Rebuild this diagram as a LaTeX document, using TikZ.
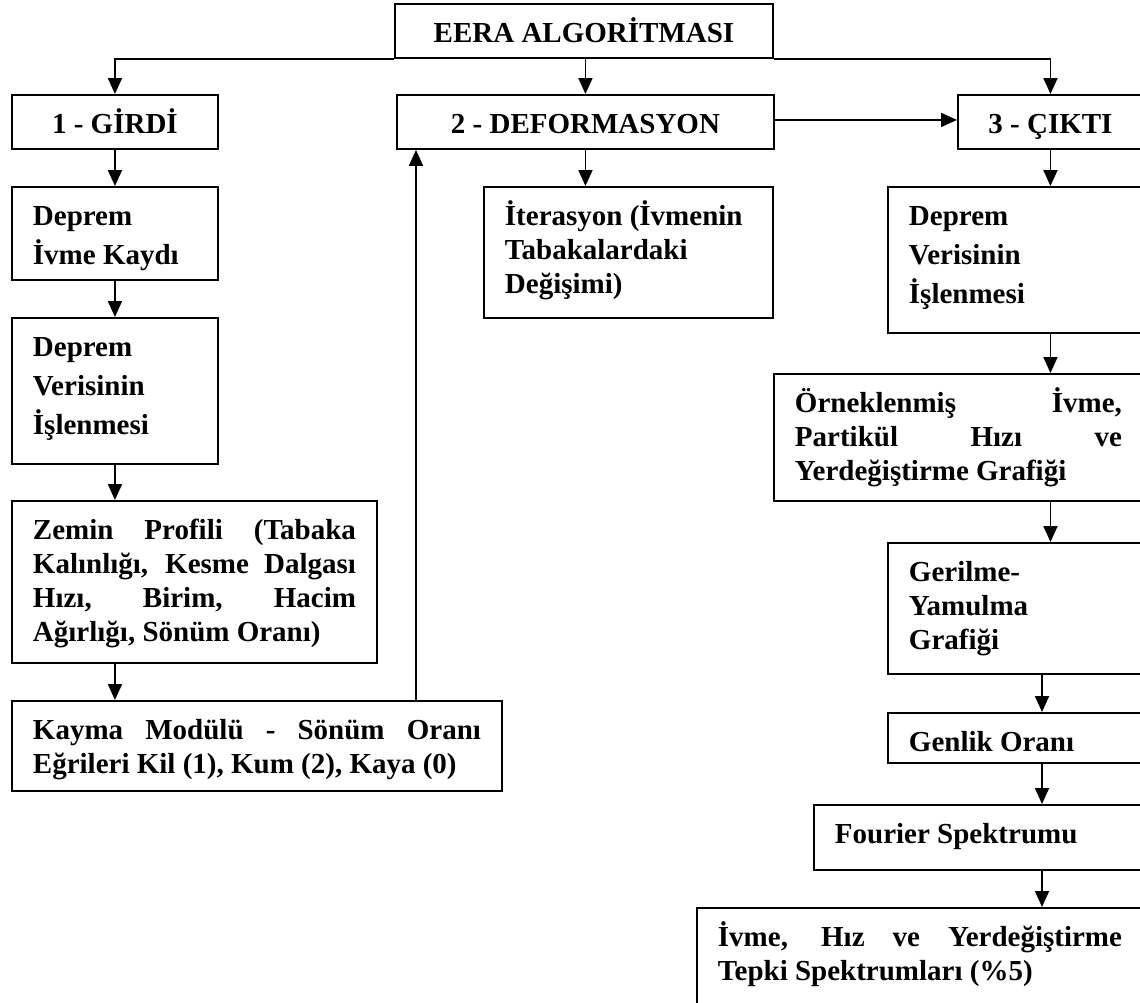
\documentclass[tikz,border=0pt]{standalone}
\usepackage{fontspec}
\setmainfont{Liberation Serif}
\usetikzlibrary{arrows.meta}
\tolerance=10000
\hbadness=10000
\newcommand{\boxtxt}[2]{\parbox[t]{#1}{#2}}

\begin{document}
\begin{tikzpicture}[x=1pt,y=-1pt,
  stage/.style={draw,line width=1.9pt,anchor=north west,inner xsep=21pt,inner ysep=0pt,text height=38.5pt,font=\fontsize{29}{34}\selectfont\bfseries},
  tall/.style={font=\fontsize{29}{39}\selectfont\bfseries},
  arrow/.style={-{Triangle[length=16pt,width=14pt]},line width=1.9pt}]
  \clip (0,0) rectangle (1140,1002);

  \node[stage,text depth=15.5pt] (eera) at (394,3) {\boxtxt{336pt}{\centering EERA ALGORİTMASI}};
  \node[stage,text depth=15.5pt] (girdi) at (11,94) {\boxtxt{164pt}{\centering 1 - GİRDİ}};
  \node[stage,text depth=15.5pt] (deform) at (396,94) {\boxtxt{335pt}{\centering 2 - DEFORMASYON}};
  \node[stage,text depth=15.5pt] (cikti) at (957,94) {\boxtxt{143pt}{\centering 3 - ÇIKTI}};

  \node[stage,tall,text depth=54.5pt] (kayit) at (11,186) {\boxtxt{164pt}{\raggedright Deprem\\ İvme Kaydı}};
  \node[stage,tall,text depth=107.5pt] (veri in) at (11,317) {\boxtxt{164pt}{\raggedright Deprem\\ Verisinin\\ İşlenmesi}};
  \node[stage,text depth=123.5pt] (zemin) at (11,500) {\boxtxt{323pt}{Zemin Profili (Tabaka\linebreak Kalınlığı, Kesme Dalgası\linebreak Hızı, Birim, Hacim\linebreak Ağırlığı, Sönüm Oranı)}};
  \node[stage,text depth=51.5pt] (kayma) at (11,700) {\boxtxt{448pt}{Kayma Modülü - Sönüm Oranı\linebreak Eğrileri Kil (1), Kum (2), Kaya (0)}};

  \node[stage,text depth=92.5pt] (iterasyon) at (483,186) {\boxtxt{247pt}{\raggedright İterasyon (İvmenin\\ Tabakalardaki\\ Değişimi)}};

  \node[stage,tall,text depth=107.5pt] (veri out) at (887,186) {\boxtxt{213pt}{\raggedright Deprem\\ Verisinin\\ İşlenmesi}};
  \node[stage,text depth=88.5pt] (grafik) at (773,373) {\boxtxt{327pt}{Örneklenmiş İvme,\linebreak Partikül Hızı ve\linebreak Yerdeğiştirme Grafiği}};
  \node[stage,text depth=92.5pt] (gerilme) at (887,542) {\boxtxt{213pt}{\raggedright Gerilme-\\ Yamulma\\ Grafiği}};
  \node[stage,text depth=11.5pt] (genlik) at (887,712) {\boxtxt{213pt}{\raggedright Genlik Oranı}};
  \node[stage,text depth=26.5pt] (fourier) at (813,804) {\boxtxt{287pt}{\raggedright Fourier Spektrumu}};
  \node[stage,text depth=64.5pt] (tepki) at (696,907) {\boxtxt{404pt}{İvme, Hız ve Yerdeğiştirme\linebreak Tepki Spektrumları (\%5)}};

  \coordinate (feedback) at (416,0);
  \coordinate (spine) at (1042,0);

  \draw[arrow] (eera.south west) -| (girdi.north);
  \draw[arrow] (eera.south -| deform.north) -- (deform.north);
  \draw[arrow] (eera.south east) -| (cikti.north);

  \draw[arrow] (girdi) -- (kayit);
  \draw[arrow] (kayit) -- (veri in);
  \draw[arrow] (veri in.south) -- (veri in.south |- zemin.north);
  \draw[arrow] (zemin.south -| veri in.south) -- (kayma.north -| veri in.south);
  \draw[arrow] (kayma.north -| feedback) -- (deform.south -| feedback);

  \draw[arrow] (deform.south) -- (deform.south |- iterasyon.north);
  \draw[arrow] ([yshift=2pt]deform.east) -- ([yshift=2pt]cikti.west);

  \draw[arrow] (cikti.south) -- (cikti.south |- veri out.north);
  \draw[arrow] (veri out.south -| cikti.south) -- (grafik.north -| cikti.south);
  \draw[arrow] (grafik.south -| cikti.south) -- (gerilme.north -| cikti.south);
  \draw[arrow] (gerilme.south -| spine) -- (genlik.north -| spine);
  \draw[arrow] (genlik.south -| spine) -- (fourier.north -| spine);
  \draw[arrow] (fourier.south -| spine) -- (tepki.north -| spine);
\end{tikzpicture}
\end{document}
